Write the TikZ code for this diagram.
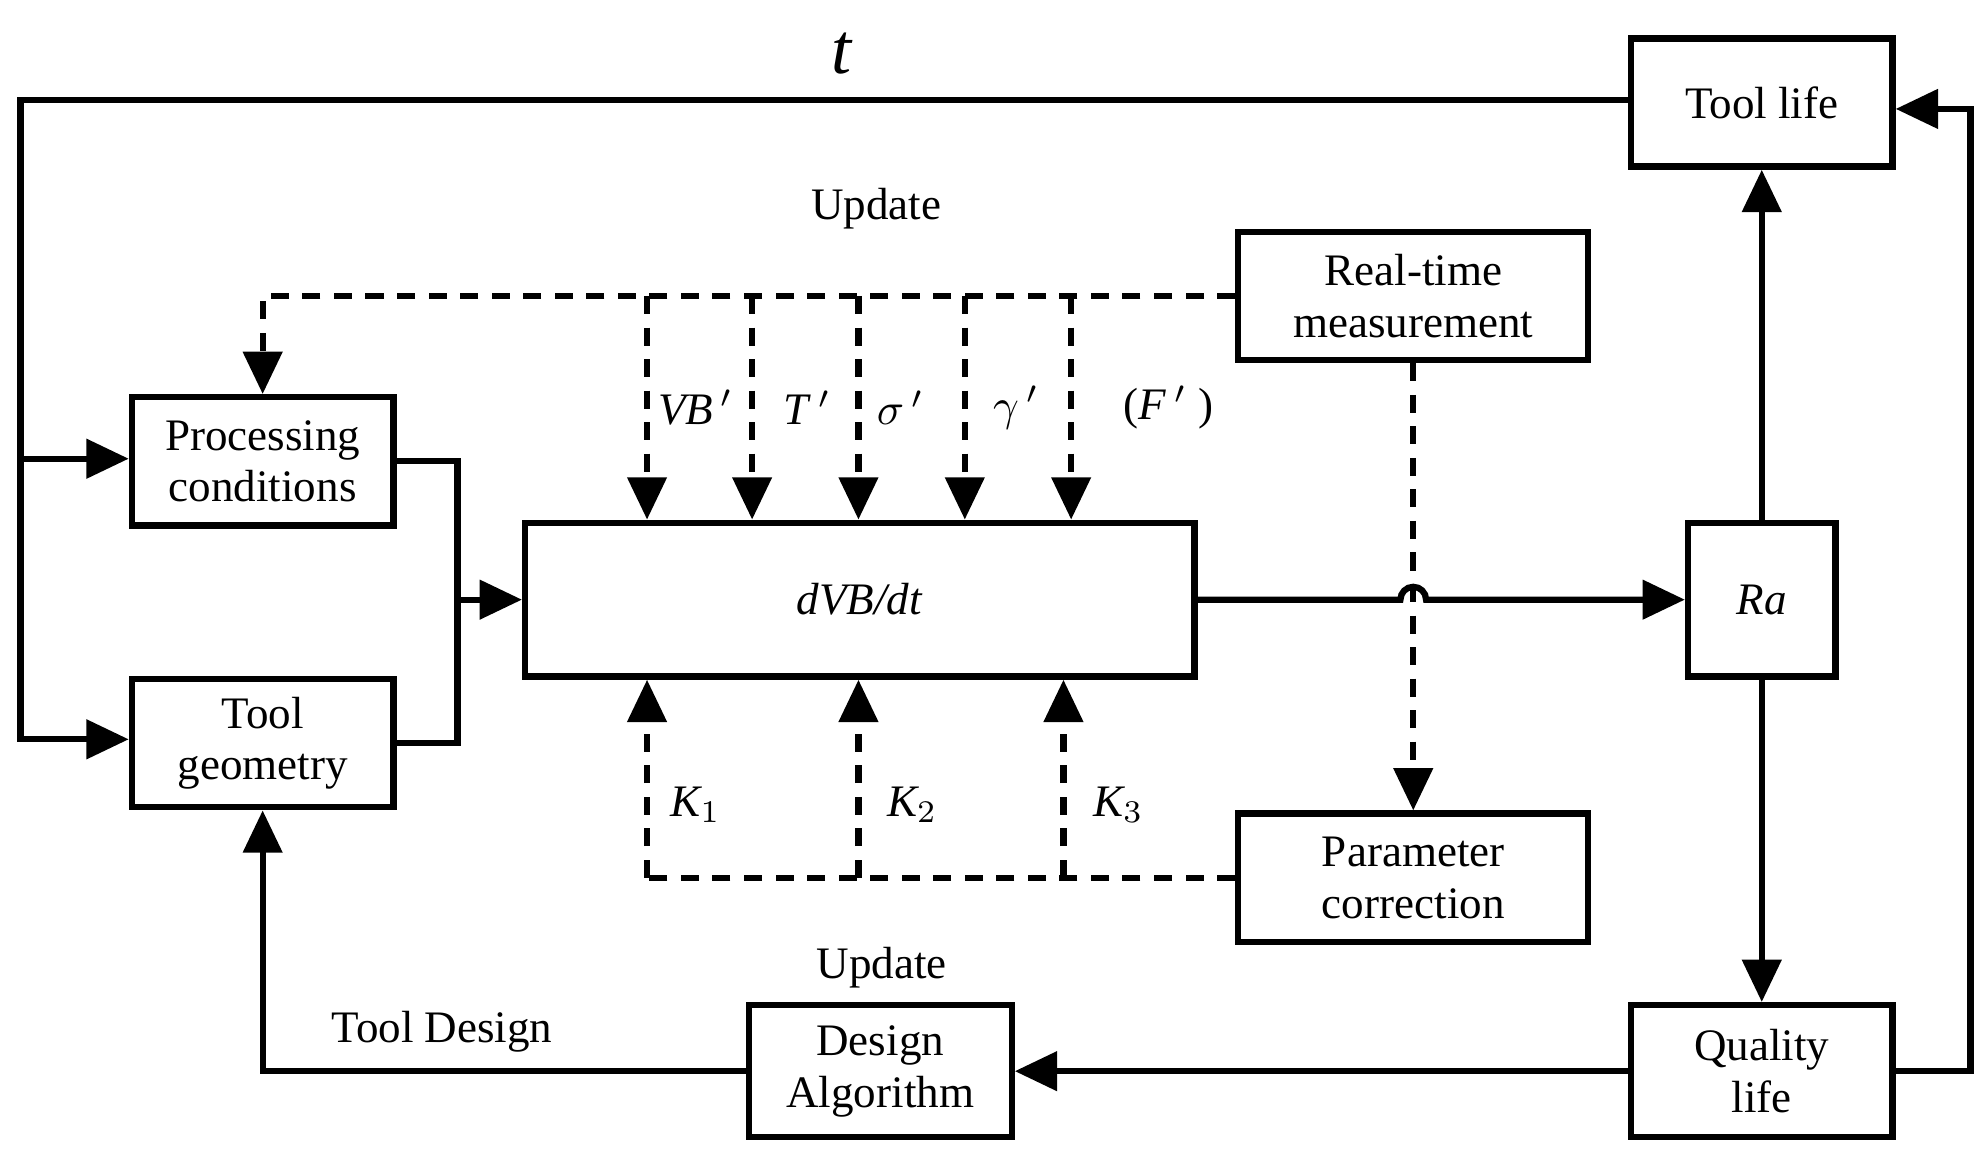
\documentclass[tikz,border=0pt]{standalone}
\usepackage{fontspec}
\setmainfont{Liberation Serif}
\usetikzlibrary{arrows.meta, positioning}

\begin{document}
\begin{tikzpicture}[x=0.01cm, y=-0.01cm,
    every node/.style={font=\fontsize{10}{11.5}\selectfont},
    blk/.style={draw, line width=1.4pt, minimum width=2.04cm, minimum height=1.0cm, align=center, inner sep=1pt},
    wire/.style={line width=1.4pt},
    arr/.style={wire, -{Triangle[length=0.33cm, width=0.3cm]}},
    dsh/.style={line width=1.4pt, dash pattern=on 4pt off 3pt},
    darr/.style={dsh, -{Triangle[length=0.33cm, width=0.3cm]}}]
    \useasboundingbox (0,0) rectangle (1550,905);
    % blocks
    \node[blk] (life) at (1375,80) {Tool life};
    \node[blk, minimum width=2.73cm] (rtm) at (1103,231) {Real-time\\measurement};
    \node[blk] (proc) at (205,360) {Processing\\conditions};
    \node[blk] (geo) at (205,580) {Tool\\geometry};
    \node[blk, minimum width=5.22cm, minimum height=1.2cm] (dvb) at (671,468) {\textit{dVB/dt}};
    \node[blk, minimum width=1.15cm, minimum height=1.2cm] (ra) at (1375,468) {\textit{Ra}};
    \node[blk, minimum width=2.73cm] (pc) at (1103,685) {Parameter\\correction};
    \node[blk, minimum height=1.03cm] (ql) at (1375,836) {Quality\\life};
    \node[blk, minimum width=2.05cm, minimum height=1.03cm] (da) at (687,836) {Design\\Algorithm};
    % helper points
    \coordinate (tl) at (16,78);
    \coordinate (bl) at (16,577);
    \coordinate (ml) at (16,358);
    \coordinate (jn) at (357,468);
    \coordinate (hop) at (1103,468);
    \coordinate (rr) at (1538,836);
    \coordinate (rt) at (1538,85);
    \coordinate (dtop) at (205,231);
    \coordinate (dbot) at (505,685);
    % solid connectors
    \draw[arr] (life.west |- tl) -- (tl) -- (bl) -- (geo.west |- bl);
    \draw[arr] (ml) -- (proc.west |- ml);
    \draw[wire] (proc.east) -| (jn) |- (geo.east);
    \draw[arr] (jn) -- (dvb.west |- jn);
    \draw[arr] (dvb.east) -- ([xshift=-0.1cm]hop) arc (180:0:0.1cm) -- (ra.west);
    \draw[arr] (ra.north) -- (life.south);
    \draw[arr] (ra.south) -- (ql.north);
    \draw[arr] (ql.east) -- (rr) -- (rt) -- (life.east |- rt);
    \draw[arr] (ql.west) -- (da.east);
    \draw[arr] (da.west) -| (geo.south);
    % dashed connectors
    \draw[darr] (rtm.west) -- (dtop) -- (proc.north);
    \foreach \xx in {505,587,670,753,836}
        \draw[darr] (\xx,231) -- (dvb.north -| \xx,0);
    \draw[darr] (rtm.south) -- (pc.north);
    \draw[dsh] (pc.west) -- (dbot);
    \foreach \xx in {505,670,830}
        \draw[darr] (\xx,685) -- (dvb.south -| \xx,0);
    % labels
    \node at (657,42) {\fontsize{16}{18}\selectfont\textit{t}};
    \node at (684,163) {Update};
    \node at (688,755) {Update};
    \node at (345,805) {Tool Design};
    \node at (543,318) {\textit{VB}$\,'$};
    \node at (630,318) {\textit{T}$\,'$};
    \node at (703,318) {$\sigma\,'$};
    \node at (793,318) {$\gamma\,'$};
    \node at (912,318) {(\textit{F}$\,'$ )};
    \node at (543,628) {\textit{K$_1$}};
    \node at (712,628) {\textit{K$_2$}};
    \node at (873,628) {\textit{K$_3$}};
\end{tikzpicture}
\end{document}
